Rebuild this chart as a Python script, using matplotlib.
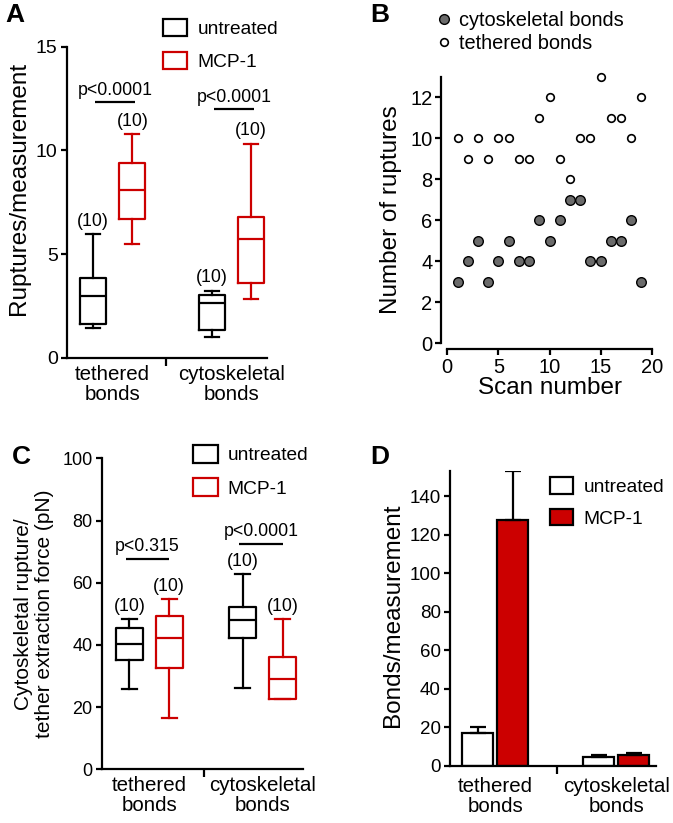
import matplotlib
matplotlib.use("Agg")
import matplotlib.pyplot as plt
from matplotlib.patches import Patch
from matplotlib.lines import Line2D

plt.rcParams['font.family'] = ['Liberation Sans', 'DejaVu Sans']

RED = '#cc0000'
GRAY = '#6b6b6b'

# ---------------- data ----------------
groups = ['tethered\nbonds', 'cytoskeletal\nbonds']
conditions = ['untreated', 'MCP-1']

# Panel A five-number summaries: [min, q1, median, q3, max]
A_untreated = [[1.45, 1.65, 3.0, 3.87, 5.96], [1.0, 1.36, 2.63, 3.04, 3.24]]
A_mcp = [[5.48, 6.68, 8.1, 9.38, 10.78], [2.83, 3.6, 5.73, 6.81, 10.31]]
A_pvals = ['p<0.0001', 'p<0.0001']
A_pline_y = [12.34, 12.0]

# Panel B
scan = list(range(1, 20))
cyto_ruptures = [3, 4, 5, 3, 4, 5, 4, 4, 6, 5, 6, 7, 7, 4, 4, 5, 5, 6, 3]
tether_ruptures = [10, 9, 10, 9, 10, 10, 9, 9, 11, 12, 9, 8, 10, 10, 13, 11, 11, 10, 12]

# Panel C five-number summaries
C_untreated = [[25.7, 35.1, 40.2, 45.3, 48.2], [26.2, 42.1, 48.0, 52.3, 62.8]]
C_mcp = [[16.4, 32.7, 42.1, 49.4, 54.7], [22.5, 22.6, 28.9, 36.0, 48.3]]
C_pvals = ['p<0.315', 'p<0.0001']
C_pline_y = [67.6, 72.4]

# Panel D means and errors
D_untreated = [17.0, 4.6]
D_untreated_err = [3.4, 1.2]
D_mcp = [127.5, 5.9]
D_mcp_err = [25.5, 1.1]

W, H = 673, 823
fig = plt.figure(figsize=(W / 100, H / 100), dpi=100)


def ax_px(l, r, t, b):
    return fig.add_axes([l / W, 1 - b / H, (r - l) / W, (b - t) / H])


LW = 1.6


def style_common(ax, ylim, yticks, tick_fs):
    for s in ['top', 'right']:
        ax.spines[s].set_visible(False)
    for s in ['left', 'bottom']:
        ax.spines[s].set_linewidth(LW)
    ax.set_ylim(*ylim)
    ax.set_yticks(yticks)
    ax.tick_params(axis='y', direction='out', length=4.5, width=LW, labelsize=tick_fs, pad=2)


def category_axis(ax, centers, sep, cat_fs):
    ax.set_xticks([sep])
    ax.set_xticklabels([''])
    ax.tick_params(axis='x', which='major', direction='out', length=6, width=LW)
    ax.set_xticks(centers, minor=True)
    ax.set_xticklabels(groups, minor=True, fontsize=cat_fs, linespacing=1.05)
    ax.tick_params(axis='x', which='minor', length=0, pad=5)


def stats_from(summ):
    return [dict(whislo=s[0], q1=s[1], med=s[2], q3=s[3], whishi=s[4], fliers=[]) for s in summ]


def draw_boxes(ax, summ, pos, color, width, capw):
    props = dict(color=color, linewidth=LW)
    ax.bxp(stats_from(summ), positions=pos, widths=width, capwidths=capw,
           showfliers=False, patch_artist=False,
           boxprops=props, whiskerprops=props, capprops=props, medianprops=props,
           manage_ticks=False)


def n_labels(ax, pos, summ, dy_pt, fs):
    for x, s in zip(pos, summ):
        ax.annotate('(10)', (x, s[4]), xytext=(0, dy_pt), textcoords='offset points',
                    ha='center', va='center', fontsize=fs)


def p_lines(ax, x0s, x1s, ys, texts, dy_pt, fs):
    for x0, x1, y, t in zip(x0s, x1s, ys, texts):
        ax.plot([x0, x1], [y, y], color='black', lw=LW, solid_capstyle='butt')
        ax.annotate(t, ((x0 + x1) / 2, y), xytext=(0, dy_pt), textcoords='offset points',
                    ha='center', va='center', fontsize=fs)


def box_legend(ax, anchor_px, handles, fs, hl, hh, spacing, pad):
    ax.legend(handles=handles, labels=conditions, loc='upper left',
              bbox_to_anchor=(anchor_px[0] / W, 1 - anchor_px[1] / H),
              bbox_transform=fig.transFigure, frameon=False, fontsize=fs,
              borderpad=0, borderaxespad=0, handlelength=hl, handleheight=hh,
              labelspacing=spacing, handletextpad=pad)


# ---------------- Panel A ----------------
axA = ax_px(66.7, 267, 46.7, 358)
style_common(axA, (0, 15), [0, 5, 10, 15], 14)
axA.set_xlim(0.613, 2.297)
centers = [1, 2]
off = 0.165
posU = [c - off for c in centers]
posM = [c + off for c in centers]
draw_boxes(axA, A_untreated, posU, 'black', 0.22, 0.12)
draw_boxes(axA, A_mcp, posM, RED, 0.22, 0.12)
n_labels(axA, posU, A_untreated, 9.5, 12.8)
n_labels(axA, posM, A_mcp, 9.5, 12.8)
p_lines(axA, [p + 0.02 for p in posU], [p + 0.025 for p in posM], A_pline_y, A_pvals, 8.3, 12.8)
category_axis(axA, centers, 1.445, 14.8)
axA.set_ylabel('Ruptures/measurement', fontsize=17.5, labelpad=4, y=0.545)
box_legend(axA, (163, 19), [Patch(facecolor='white', edgecolor='black', lw=LW),
                            Patch(facecolor='white', edgecolor=RED, lw=LW)],
           13.8, 1.25, 1.0, 0.72, 0.55)
fig.text(5 / W, 1 - 15 / H, 'A', fontsize=19, fontweight='bold', va='center', ha='left')

# ---------------- Panel B ----------------
axB = ax_px(447.3, 651.7, 76.7, 343.3)
for s in ['top', 'right']:
    axB.spines[s].set_visible(False)
for s in ['left', 'bottom']:
    axB.spines[s].set_linewidth(LW)
    axB.spines[s].set_position(('outward', 4.3))
axB.set_xlim(0, 20)
axB.set_ylim(0, 13)
axB.set_xticks([0, 5, 10, 15, 20])
axB.set_yticks([0, 2, 4, 6, 8, 10, 12])
axB.tick_params(direction='out', length=4.5, width=LW, labelsize=14.5, pad=2)
axB.scatter(scan, cyto_ruptures, s=48, facecolor=GRAY, edgecolor='black', linewidths=1.0,
            zorder=3, clip_on=False)
axB.scatter(scan, tether_ruptures, s=30, facecolor='white', edgecolor='black', linewidths=1.2,
            zorder=3, clip_on=False)
axB.set_xlabel('Scan number', fontsize=17.5, labelpad=0)
axB.set_ylabel('Number of ruptures', fontsize=17.5, labelpad=6)
hB = [Line2D([], [], ls='none', marker='o', ms=7, mfc=GRAY, mec='black', mew=1.0),
      Line2D([], [], ls='none', marker='o', ms=5.5, mfc='white', mec='black', mew=1.2)]
axB.legend(handles=hB, labels=['cytoskeletal bonds', 'tethered bonds'], loc='upper left',
           bbox_to_anchor=(436 / W, 1 - 11 / H), bbox_transform=fig.transFigure,
           frameon=False, fontsize=14.4, borderpad=0, borderaxespad=0,
           handlelength=0.8, handletextpad=0.35, labelspacing=0.22)
fig.text(380 / W, 1 - 15 / H, 'B', fontsize=19, fontweight='bold', va='center', ha='center')

# ---------------- Panel C ----------------
axC = ax_px(101.7, 303.3, 458.3, 769.3)
style_common(axC, (0, 100), [0, 20, 40, 60, 80, 100], 13)
axC.set_xlim(0.58, 2.358)
offC = 0.176
posUC = [c - offC for c in centers]
posMC = [c + offC for c in centers]
draw_boxes(axC, C_untreated, posUC, 'black', 0.235, 0.13)
draw_boxes(axC, C_mcp, posMC, RED, 0.235, 0.13)
n_labels(axC, posUC, C_untreated, 9, 12.8)
n_labels(axC, posMC, C_mcp, 9, 12.8)
p_lines(axC, [p - 0.03 for p in posUC], [p for p in posMC], C_pline_y, C_pvals, 9, 12.8)
category_axis(axC, centers, 1.482, 14.8)
axC.set_ylabel('Cytoskeletal rupture/\ntether extraction force (pN)', fontsize=15,
               labelpad=6, linespacing=1.15)
box_legend(axC, (193, 445), [Patch(facecolor='white', edgecolor='black', lw=LW),
                             Patch(facecolor='white', edgecolor=RED, lw=LW)],
           13.8, 1.3, 1.05, 0.72, 0.5)
fig.text(21.7 / W, 1 - 456.7 / H, 'C', fontsize=19, fontweight='bold', va='center', ha='center')

# ---------------- Panel D ----------------
axD = ax_px(450, 656, 471, 766)
style_common(axD, (0, 153), [0, 20, 40, 60, 80, 100, 120, 140], 13.5)
axD.set_xlim(0.626, 2.328)
offD = 0.145
bw = 0.256
axD.bar([c - offD for c in centers], D_untreated, width=bw, color='white', edgecolor='black',
        linewidth=LW, yerr=[[0, 0], D_untreated_err],
        error_kw=dict(ecolor='black', elinewidth=LW, capsize=5.5, capthick=LW), zorder=2)
axD.bar([c + offD for c in centers], D_mcp, width=bw, color=RED, edgecolor='black',
        linewidth=LW, yerr=[[0, 0], D_mcp_err],
        error_kw=dict(ecolor='black', elinewidth=LW, capsize=5.5, capthick=LW), zorder=2)
category_axis(axD, centers, 1.507, 14.8)
axD.tick_params(axis='x', which='minor', pad=8)
axD.set_ylabel('Bonds/measurement', fontsize=17.5, labelpad=4, y=0.51)
box_legend(axD, (550, 477), [Patch(facecolor='white', edgecolor='black', lw=LW),
                             Patch(facecolor=RED, edgecolor='black', lw=LW)],
           13.8, 1.2, 0.95, 0.68, 0.55)
fig.text(380 / W, 1 - 456.7 / H, 'D', fontsize=19, fontweight='bold', va='center', ha='center')

fig.savefig('out.png', dpi=100)
